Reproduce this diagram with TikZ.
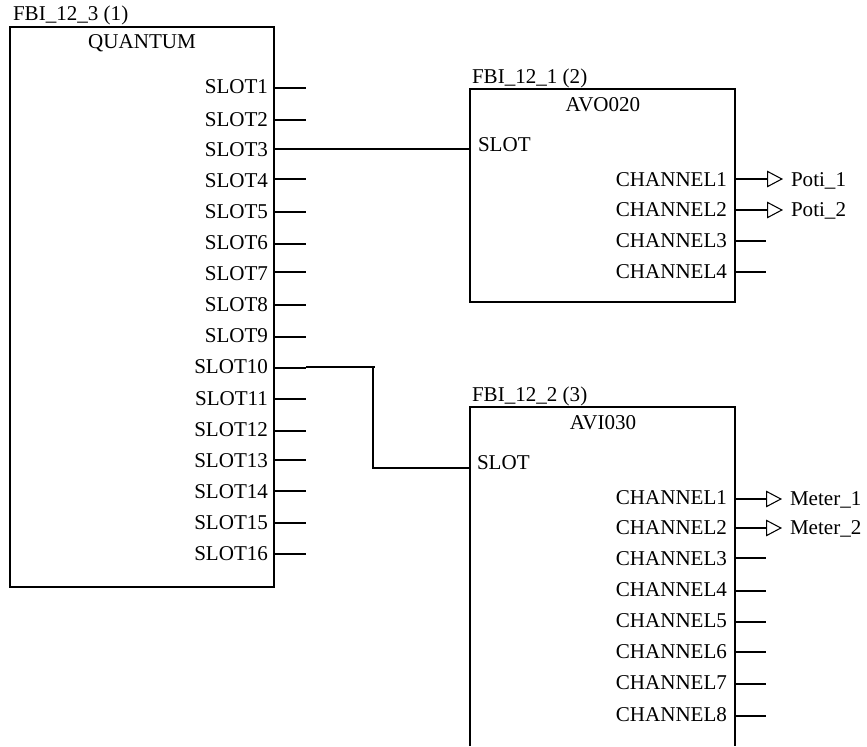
\documentclass[tikz,border=0pt]{standalone}
\usepackage{fontspec}
\setmainfont{Liberation Serif}
\usetikzlibrary{arrows.meta}
\tikzset{
  wire/.style={line width=1.15pt,line cap=butt},
  fblock/.style={draw,line width=1.15pt,inner sep=0pt,outer sep=0pt},
  txt/.style={inner sep=0pt,outer sep=0pt,font=\fontsize{15.8}{18}\selectfont},
  pinr/.style={txt,anchor=base east},
  pinl/.style={txt,anchor=base west},
  title/.style={txt,anchor=base},
  outtip/.style={wire,-{Triangle[open,length=12pt,width=12.5pt,line width=0.8pt]}}
}
\begin{document}
\begin{tikzpicture}[x=0.75pt,y=-0.75pt]
\useasboundingbox (0,0) rectangle (867,746);
% Blocks
\node[fblock,minimum width=198pt,minimum height=420pt] (quantum) at (142,307) {};
\node[fblock,minimum width=198.75pt,minimum height=159.75pt] (avo) at (602.5,195.5) {};
\coordinate (aviTL) at (470,407);
\coordinate (aviTR) at (735,407);
\coordinate (aviBL) at (470,746);
\coordinate (aviBR) at (735,746);
\draw[wire] (aviBL) -- (aviTL) -- (aviTR) -- (aviBR);
% Titles
\node[pinl] (t1) at (13,21) {FBI\_12\_3 (1)};
\node[pinl] (t2) at (472,83) {FBI\_12\_1 (2)};
\node[pinl] (t3) at (472,401) {FBI\_12\_2 (3)};
\node[title] (n1) at (142,48) {QUANTUM};
\node[title] (n2) at (603,111) {AVO020};
\node[title] (n3) at (603,429) {AVI030};
% QUANTUM slots
\foreach \n/\y/\b in {1/88/93,2/120/126,3/149/156,4/179/187,5/212/218,6/244/249,7/272/280,8/305/311,9/337/342,10/368/373,11/399/405,12/431/436,13/460/467,14/491/498,15/523/529,16/554/560}{
  \node[pinr] (slot\n) at (268,\b) {SLOT\n};
  \coordinate (sa\n) at (274,\y);
  \coordinate (sb\n) at (306,\y);
}
\foreach \n in {1,2,4,5,6,7,8,9,10,11,12,13,14,15,16}{
  \draw[wire] (sa\n) -- (sb\n);
}
% AVO020 pins
\node[pinl] (aslot) at (478,151) {SLOT};
\coordinate (ain) at (470,149);
\foreach \n/\y/\b in {1/179/186,2/210/216,3/241/247,4/272/278}{
  \node[pinr] (ach\n) at (727,\b) {CHANNEL\n};
  \coordinate (aa\n) at (735,\y);
  \coordinate (ab\n) at (766,\y);
  \coordinate (ac\n) at (783,\y);
}
\draw[outtip] (aa1) -- (ac1);
\draw[outtip] (aa2) -- (ac2);
\draw[wire] (aa3) -- (ab3);
\draw[wire] (aa4) -- (ab4);
\node[pinl] (poti1) at (791,186) {Poti\_1};
\node[pinl] (poti2) at (791,216) {Poti\_2};
% AVI030 pins
\node[pinl] (bslot) at (477,469) {SLOT};
\coordinate (bin) at (470,468);
\foreach \n/\y/\b in {1/499/504,2/528/534,3/558/565,4/591/596,5/622/627,6/652/658,7/684/689,8/716/721}{
  \node[pinr] (bch\n) at (727,\b) {CHANNEL\n};
  \coordinate (ba\n) at (735,\y);
  \coordinate (bb\n) at (766,\y);
  \coordinate (bc\n) at (782,\y);
}
\draw[outtip] (ba1) -- (bc1);
\draw[outtip] (ba2) -- (bc2);
\foreach \n in {3,...,8}{
  \draw[wire] (ba\n) -- (bb\n);
}
\node[pinl] (meter1) at (790,505) {Meter\_1};
\node[pinl] (meter2) at (790,534) {Meter\_2};
% Connections
\draw[wire] (sa3) -- (ain);
\coordinate (k1) at (306,367);
\coordinate (k2) at (375,367);
\coordinate (k3) at (373,468);
\draw[wire] (k1) -- (k2);
\draw[wire] (k2) ++(-2,0) -- (k3);
\draw[wire] (k3) ++(-1,0) -- (bin);
\end{tikzpicture}
\end{document}
